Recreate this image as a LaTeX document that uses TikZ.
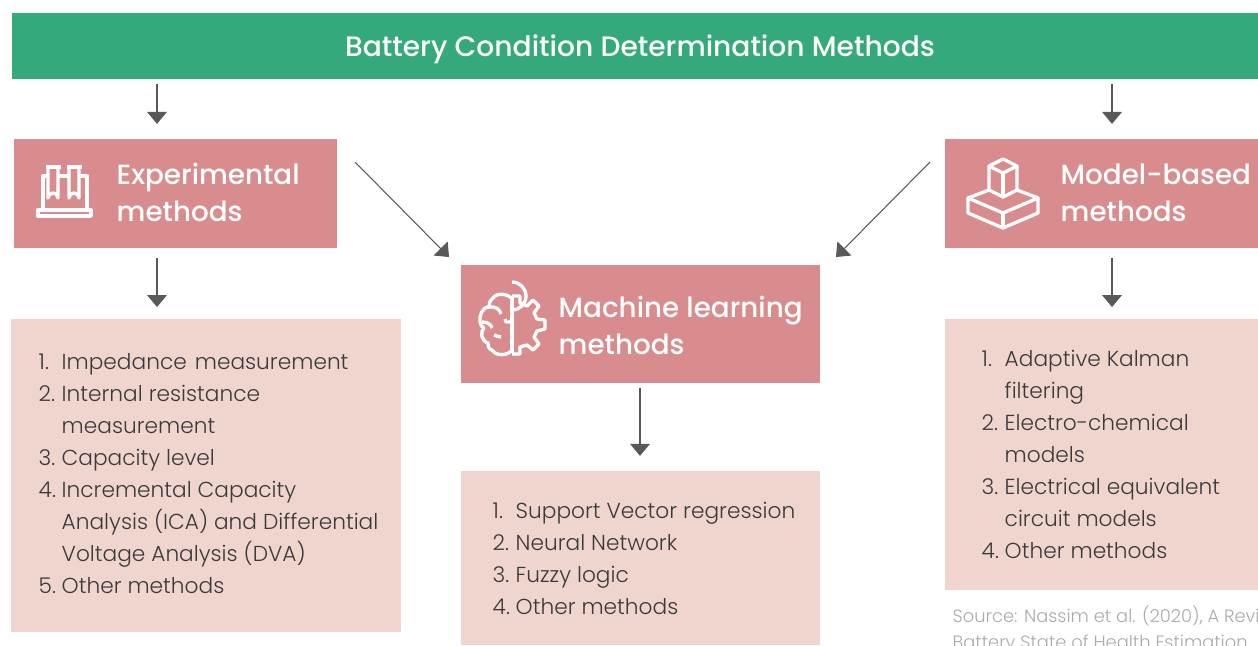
\documentclass[tikz,border=0pt]{standalone}
\usepackage{fontspec}
\setmainfont{Poppins}
\newfontfamily\headfont{Poppins}[UprightFont=* Medium]
\newfontfamily\bodyfont{Poppins}[UprightFont=* Light]
\usepackage{xcolor}
\usetikzlibrary{arrows.meta, positioning}
\definecolor{titlegreen}{HTML}{34A97B}
\definecolor{headpink}{HTML}{D88C8D}
\definecolor{listpink}{HTML}{F0D5CE}
\definecolor{arrowgrey}{HTML}{58595B}
\definecolor{bodytext}{HTML}{3A3A3A}
\definecolor{sourcegrey}{HTML}{ABABAB}

\begin{document}
\begin{tikzpicture}[x=0.01cm, y=-0.01cm]
    % Define styles
    \tikzstyle{box}=[rectangle, anchor=north west, inner sep=0pt, outer sep=0pt]
    \tikzstyle{head}=[anchor=base west, inner sep=0pt, text=white, font=\headfont\fontsize{7.9}{9}\selectfont]
    \tikzstyle{item}=[anchor=base west, inner sep=0pt, text=bodytext, font=\bodyfont\fontsize{6.17}{9}\selectfont]
    \tikzstyle{source}=[anchor=base west, inner sep=0pt, text=sourcegrey, font=\bodyfont\fontsize{5.08}{9}\selectfont]
    \tikzstyle{flow}=[draw=arrowgrey, line width=0.3pt, -{Triangle[length=3.4pt, width=5.6pt]}]
    \tikzstyle{icon}=[draw=white, line width=0.95pt, line join=round, line cap=butt]

    \useasboundingbox (0,0) rectangle (1258,645);

    % Draw the boxes
    \foreach \name/\col/\x/\y/\w/\h in {title/titlegreen/12/13/1246/66, exp/headpink/14/139/323/109,
        ml/headpink/461/265/359/118, model/headpink/945/139/313/109,
        explist/listpink/11/319/390/313, mllist/listpink/461/471/359/174, modellist/listpink/945/319/313/271}
        \node[box, fill=\col, minimum width=\w*0.01cm, minimum height=\h*0.01cm] (\name) at (\x,\y) {};

    % Title and headings
    \node[text=white, inner sep=0pt, font=\headfont\fontsize{8}{9}\selectfont] (titletext) at (640,49) {Battery Condition Determination Methods};
    \foreach \name/\x/\y/\txt in {expa/116/184/Experimental, expb/116/221/methods, mla/558/317/Machine learning,
        mlb/558/354/methods, modela/1060/184/Model-based, modelb/1060/221/methods}
        \node[head] (\name) at (\x,\y) {\txt};

    % Experimental list
    \foreach \n/\y/\num/\txt in {a/369/1./Impedance\hspace{0.6pt} measurement, b/401/2./Internal resistance, c/433//measurement,
        d/465/3./Capacity level, e/497/4./Incremental Capacity, f/529//Analysis (ICA) and Differential,
        g/561//Voltage Analysis (DVA), h/593/5./Other methods} {
        \node[item] (expnum\n) at (38,\y) {\num};
        \node[item] (expitem\n) at (61,\y) {\txt};
    }

    % Machine learning list
    \foreach \n/\y/\num/\txt in {a/518/1./Support Vector regression, b/550/2./Neural Network,
        c/582/3./Fuzzy logic, d/614/4./Other methods} {
        \node[item] (mlnum\n) at (492,\y) {\num};
        \node[item] (mlitem\n) at (515,\y) {\txt};
    }

    % Model-based list
    \foreach \n/\y/\num/\txt in {a/366/1./Adaptive Kalman, b/398//filtering, c/430/2./Electro-chemical, d/462//models,
        e/494/3./Electrical equivalent, f/526//circuit models, g/558/4./Other methods} {
        \node[item] (modelnum\n) at (981,\y) {\num};
        \node[item] (modelitem\n) at (1004,\y) {\txt};
    }

    % Source note
    \node[source] (sourcea) at (952,622) {Source: Nassim et al. (2020), A Revi};
    \node[source] (sourceb) at (952,648) {Battery State of Health Estimation};

    % Draw the arrows
    \coordinate (expx) at (157,0);
    \coordinate (mlx) at (640,0);
    \coordinate (modelx) at (1112,0);
    \coordinate (expout) at (355,162);
    \coordinate (mlleft) at (449,257);
    \coordinate (modelout) at (930,162);
    \coordinate (mlright) at (836,257);
    \draw[flow, shorten <=1.4pt, shorten >=4.3pt] (title.south -| expx) -- (exp.north -| expx);
    \draw[flow, shorten <=1.4pt, shorten >=4.3pt] (title.south -| modelx) -- (model.north -| modelx);
    \draw[flow, shorten <=2.8pt, shorten >=3.4pt] (exp.south -| expx) -- (explist.north -| expx);
    \draw[flow, shorten <=2.8pt, shorten >=3.4pt] (model.south -| modelx) -- (modellist.north -| modelx);
    \draw[flow, shorten <=1.4pt, shorten >=4.3pt] (ml.south -| mlx) -- (mllist.north -| mlx);
    \draw[flow] (expout) -- (mlleft);
    \draw[flow] (modelout) -- (mlright);

    % Test tube icon
    \draw[icon] (38,210) rectangle (91,216);
    \draw[icon] (43,210) -- (43,176) -- (48,176) (58,176) -- (69,176) (79,176) -- (87,176) -- (87,210);
    \draw[icon] (46,167) -- (61,167) (67,167) -- (82,167);
    \draw[icon] (48,167) -- (48,198) arc[start angle=180, end angle=360, radius=5] -- (58,167);
    \draw[icon] (69,167) -- (69,198) arc[start angle=180, end angle=360, radius=5] -- (79,167);

    % Brain and gear icon
    \draw[icon] (512,297) -- (512,353);
    \draw[icon] (512,310) arc[start angle=90, end angle=-90, radius=14];
    \draw[icon] (512,296) -- (520,296) -- (520,303) -- (527,306) -- (533,300) -- (539,306) -- (534,313) -- (537,319)
        -- (545,320) -- (545,329) -- (537,331) -- (534,337) -- (539,344) -- (533,350) -- (527,345) -- (520,347)
        -- (520,354) -- (512,354);
    \draw[icon] (512,299) .. controls (509,294) and (497,292) .. (493,298) .. controls (490,300) and (489,304) .. (489,307)
        .. controls (482,307) and (479,316) .. (480,322) .. controls (480,325) and (482,327) .. (484,328)
        .. controls (480,331) and (481,341) .. (488,343) .. controls (488,348) and (490,350) .. (493,351)
        .. controls (496,356) and (508,356) .. (512,350);
    \draw[icon] (489,307) .. controls (495,306) and (500,309) .. (501,314);
    \draw[icon] (482,322) .. controls (487,322) and (491,324) .. (492,328);
    \draw[icon] (494,335) .. controls (497,336) and (499,337) .. (501,337);
    \draw[icon] (512,322) -- (506,322) -- (505,319);

    % Stacked cube icon
    \draw[icon] (1003,159) -- (1017,166) -- (1003,173) -- (989,166) -- cycle;
    \draw[icon] (989,166) -- (989,190) -- (1003,197) -- (1017,190) -- (1017,166);
    \draw[icon] (1003,173) -- (1003,197);
    \draw[icon] (989,190) -- (968,198) -- (1003,213) -- (1038,198) -- (1017,190);
    \draw[icon] (968,198) -- (968,213) -- (1003,228) -- (1038,213) -- (1038,198);
    \draw[icon] (1003,213) -- (1003,228);
\end{tikzpicture}
\end{document}
